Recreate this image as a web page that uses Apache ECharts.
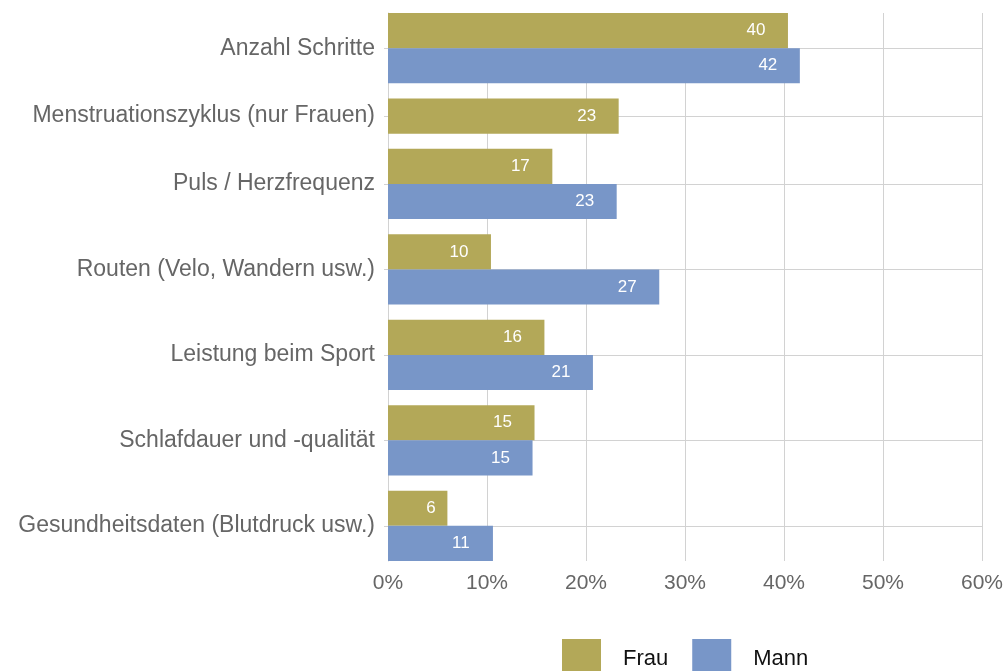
<!DOCTYPE html>
<html>
<head>
<meta charset="utf-8">
<script src="https://cdn.jsdelivr.net/npm/echarts@6/dist/echarts.min.js"></script>
<style>
  html, body { margin: 0; padding: 0; background: #fff; }
  #main { width: 1007px; height: 671px; }
</style>
</head>
<body>
<div id="main"></div>
<script>
const categories = [
  'Anzahl Schritte',
  'Menstruationszyklus (nur Frauen)',
  'Puls / Herzfrequenz',
  'Routen (Velo, Wandern usw.)',
  'Leistung beim Sport',
  'Schlafdauer und -qualität',
  'Gesundheitsdaten (Blutdruck usw.)'
];
const frau = [40.4, 23.3, 16.6, 10.4, 15.8, 14.8, 6.0];
const mann = [41.6, null, 23.1, 27.4, 20.7, 14.6, 10.6];
const xTicks = [0, 10, 20, 30, 40, 50, 60];

const FONT = '"Liberation Sans", Arial, Helvetica, sans-serif';
const colors = { Frau: '#b3a858', Mann: '#7896c8' };

// layout of the bar slots: each category only takes room for the bars it has
const GAP = 0.43;
const slots = categories.map((c, i) => (frau[i] != null ? 1 : 0) + (mann[i] != null ? 1 : 0));
const catStart = [];
let acc = 0;
slots.forEach(n => { catStart.push(acc); acc += n + GAP; });
const yMax = acc - GAP;
const catCenter = catStart.map((s, i) => s + slots[i] / 2);
const frauPos = catStart.map(s => s + 0.5);
const mannPos = catStart.map((s, i) => s + (frau[i] != null ? 1.5 : 0.5));

function renderBar(params, api) {
  const val = api.value(0);
  const pos = api.value(1);
  if (val == null || isNaN(val)) return;
  const h = api.size([0, 1])[1];
  const start = api.coord([0, pos]);
  const end = api.coord([val, pos]);
  const labelX = Math.max(end[0] - 32, start[0] + 43);
  return {
    type: 'group',
    children: [{
      type: 'rect',
      shape: { x: start[0], y: start[1] - h / 2, width: end[0] - start[0], height: h },
      style: { fill: api.visual('color') }
    }, {
      type: 'text',
      x: labelX,
      y: start[1],
      style: {
        text: String(Math.round(val)),
        fill: '#fff',
        font: '17px ' + FONT,
        align: 'center',
        verticalAlign: 'middle'
      }
    }]
  };
}

const chart = echarts.init(document.getElementById('main'));
chart.setOption({
  backgroundColor: '#fff',
  animation: false,
  textStyle: { fontFamily: FONT },
  grid: { left: 388, right: 25, top: 13, bottom: 110 },
  legend: {
    data: ['Frau', 'Mann'],
    left: 557,
    top: 634,
    icon: 'rect',
    itemWidth: 39,
    itemHeight: 40,
    itemGap: 24,
    textStyle: { color: '#111', fontSize: 22, fontFamily: FONT, padding: [0, 0, 0, 17] }
  },
  xAxis: {
    type: 'value',
    min: xTicks[0],
    max: xTicks[xTicks.length - 1],
    interval: 10,
    axisLine: { show: false },
    axisTick: { show: false },
    axisLabel: { formatter: '{value}%', color: '#666', fontSize: 21, margin: 12 },
    splitLine: { lineStyle: { color: '#d2d2d2', width: 1 } }
  },
  yAxis: {
    type: 'value',
    inverse: true,
    min: 0,
    max: yMax,
    axisLine: { show: true, lineStyle: { color: '#d2d2d2' } },
    axisTick: { show: true, length: 4, customValues: catCenter, lineStyle: { color: '#d2d2d2' } },
    axisLabel: {
      color: '#666',
      fontSize: 23,
      margin: 13,
      padding: [4, 0, 0, 0],
      customValues: catCenter,
      formatter: v => categories[catCenter.findIndex(c => Math.abs(c - v) < 1e-6)]
    },
    splitLine: { show: true, lineStyle: { color: '#d2d2d2', width: 1 } }
  },
  series: [{
    name: 'Frau',
    type: 'custom',
    itemStyle: { color: colors.Frau },
    encode: { x: 0, y: 1 },
    data: frau.map((v, i) => [v, frauPos[i]]),
    renderItem: renderBar
  }, {
    name: 'Mann',
    type: 'custom',
    itemStyle: { color: colors.Mann },
    encode: { x: 0, y: 1 },
    data: mann.map((v, i) => [v, mannPos[i]]),
    renderItem: renderBar
  }]
});
</script>
</body>
</html>
